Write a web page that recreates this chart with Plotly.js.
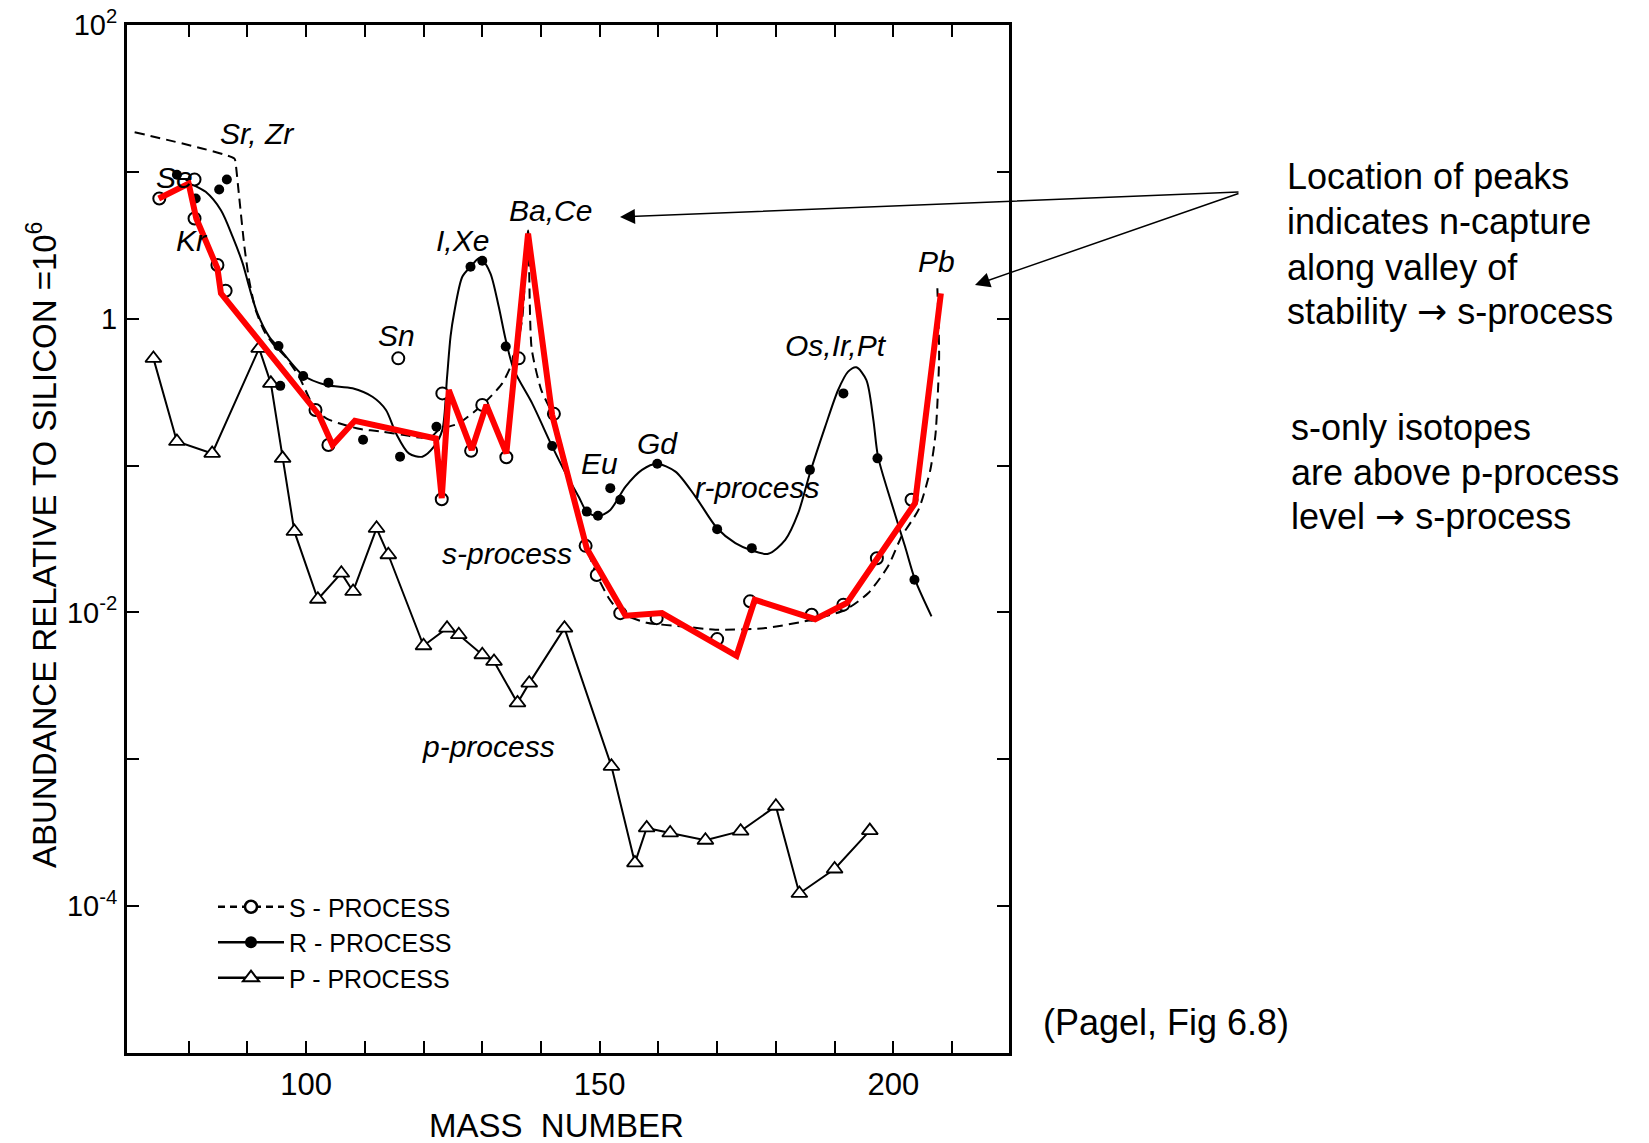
<!DOCTYPE html>
<html>
<head>
<meta charset="utf-8">
<script src="https://cdn.plot.ly/plotly-3.0.1.min.js"></script>
<style>
  html, body { margin: 0; padding: 0; background: #ffffff; }
  #chart { width: 1649px; height: 1143px; }
</style>
</head>
<body>
<div id="chart"></div>
<script>
// ---------------- data ----------------
// s-process isotopes (open circles)
const sMass  = [75.0, 81.0, 81.0, 84.9, 86.3, 101.6, 103.8, 115.7, 123.1, 123.2, 128.1, 130.0, 134.1, 136.2, 142.2,
                147.6, 149.5, 153.5, 159.7, 170.0, 175.6, 186.1, 191.5, 197.2, 203.1];
const sAbund = [6.59, 8.87, 4.81, 2.32, 1.55, 0.239, 0.138, 0.537, 0.0590, 0.310, 0.126, 0.259, 0.114, 0.537, 0.225,
                0.0284, 0.0180, 0.00989, 0.00914, 0.00658, 0.0119, 0.00964, 0.0113, 0.0234, 0.0585];

// r-process isotopes (filled dots)
const rMass  = [78.0, 81.2, 85.2, 86.5, 95.3, 95.6, 99.5, 103.8, 109.7, 116.0, 122.2, 128.0, 130.0, 134.0, 141.9,
                147.8, 149.7, 151.8, 153.5, 159.8, 170.0, 175.9, 185.8, 191.5, 197.3, 203.6];
const rAbund = [9.55, 6.58, 7.59, 8.87, 0.652, 0.349, 0.407, 0.367, 0.150, 0.115, 0.184, 2.26, 2.48, 0.646, 0.136,
                0.0486, 0.0455, 0.0702, 0.0585, 0.103, 0.0369, 0.0274, 0.0935, 0.310, 0.112, 0.0167];

// p-process isotopes (triangles, connected)
const pMass  = [74, 78, 84, 92, 94, 96, 98, 102, 106, 108, 112, 114, 120, 124, 126, 130, 132, 136, 138, 144,
                152, 156, 158, 162, 168, 174, 180, 184, 190, 196];
const pAbund = [0.537, 0.146, 0.121, 0.628, 0.363, 0.112, 0.0356, 0.0123, 0.0185, 0.0139, 0.0374, 0.0247,
                0.00593, 0.00782, 0.00705, 0.00515, 0.00464, 0.00242, 0.0033, 0.00782,
                0.000896, 0.000197, 0.000341, 0.000315, 0.000281, 0.000324, 0.000479, 0.000122, 0.000179, 0.000327];

// smooth dashed s-process curve
const sCurveMass  = [70.8, 87.8, 88.0, 88.6, 89.5, 90.3, 91.4, 92.9, 94.3, 96.5, 98.8, 101.6, 103.5, 105.6, 109.0,
                     113.0, 116.4, 119.5, 121.4, 122.6, 126.0, 130.0, 133.4, 135.5, 136.8, 137.8, 138.4, 140.0,
                     142.0, 145.0, 147.8, 149.5, 151.5, 153.5, 158.0, 164.0, 169.7, 178.2, 186.1, 191.8, 195.7,
                     199.1, 201.4, 204.3, 206.3, 207.2, 207.8, 207.5];
const sCurveAbund = [18.6, 12.3, 11.4, 6.76, 3.09, 1.83, 1.15, 0.817, 0.679, 0.550, 0.403, 0.239, 0.209, 0.194, 0.178,
                     0.170, 0.162, 0.155, 0.158, 0.175, 0.194, 0.259, 0.363, 0.550, 1.0, 3.98, 0.631, 0.331,
                     0.221, 0.0794, 0.0275, 0.0180, 0.0126, 0.0100, 0.00851, 0.00804, 0.00762, 0.00782, 0.00891,
                     0.0104, 0.0135, 0.0206, 0.0329, 0.0501, 0.0933, 0.166, 0.551, 1.61];

// smooth solid r-process curve
const rCurveMass  = [79.5, 80.4, 82.9, 85.5, 87.5, 89.2, 90.3, 91.7, 93.7, 95.4, 99.4, 103.4, 107.9, 111.3, 113.6,
                     115.3, 117.5, 119.8, 121.8, 123.2, 124.0, 124.6, 125.2, 126.6, 128.0, 129.4, 130.0, 131.4,
                     132.8, 134.0, 135.4, 138.5, 141.9, 144.2, 146.4, 147.8, 149.7, 151.8, 154.4, 157.2, 159.7,
                     162.9, 166.3, 170.0, 173.1, 175.9, 178.7, 181.6, 183.8, 185.8, 188.4, 190.6, 192.3, 193.7,
                     195.4, 196.6, 197.4, 199.7, 202.0, 203.7, 206.5];
const rCurveAbund = [8.87, 8.32, 7.31, 5.48, 3.61, 2.38, 1.65, 1.09, 0.755, 0.631, 0.414, 0.354, 0.336, 0.294, 0.239,
                     0.166, 0.121, 0.115, 0.135, 0.175, 0.398, 0.759, 1.09, 1.93, 2.26, 2.57, 2.51, 2.03,
                     1.21, 0.716, 0.448, 0.265, 0.135, 0.0887, 0.0615, 0.0486, 0.0450, 0.0499, 0.0719, 0.0935, 0.103,
                     0.0910, 0.0615, 0.0374, 0.0296, 0.0264, 0.0251, 0.0312, 0.0474, 0.0887, 0.184, 0.327, 0.436, 0.467,
                     0.383, 0.205, 0.115, 0.0555, 0.0281, 0.0167, 0.00940];

// hand-drawn red overlay line
const redMass  = [74.9, 80.0, 81.3, 84.9, 85.5, 102.2, 104.5, 108.3, 122.1, 123.1, 124.3, 128.2, 130.7, 134.1,
                  137.8, 141.9, 147.8, 154.4, 160.6, 173.3, 176.4, 186.7, 192.1, 203.7, 208.1];
const redAbund = [6.58, 8.32, 4.81, 2.20, 1.49, 0.221, 0.138, 0.202, 0.153, 0.0600, 0.327, 0.128, 0.259, 0.121,
                  3.80, 0.221, 0.0272, 0.00951, 0.00989, 0.00507, 0.0122, 0.00899, 0.0116, 0.0555, 1.49];

// axis ticks
const xTickVals = [80, 90, 100, 110, 120, 130, 140, 150, 160, 170, 180, 190, 200, 210];
const xTickText = ['', '', '100', '', '', '', '', '150', '', '', '', '', '200', ''];
const yTickVals = [100, 10, 1, 0.1, 0.01, 0.001, 0.0001, 0.00001];
const yTickText = ['10<sup>2</sup>', '', '1', '', '10<sup>-2</sup>', '', '10<sup>-4</sup>', ''];

// in-plot labels (mass, log10 abundance)
const labelText = ['Sr, Zr', 'Se', 'Kr', 'Sn', 'I,Xe', 'Ba,Ce', 'Pb', 'Os,Ir,Pt', 'Eu', 'Gd', 'r-process', 's-process', 'p-process'];
const labelMass = [91.6, 77.6, 80.5, 115.4, 126.7, 141.7, 207.3, 190.3, 149.9, 159.9, 176.8, 134.2, 131.0];
const labelLog  = [1.26, 0.96, 0.53, -0.113, 0.53, 0.738, 0.388, -0.184, -0.986, -0.85, -1.15, -1.60, -2.91];

const legendNames = ['S - PROCESS', 'R - PROCESS', 'P - PROCESS'];

const ARROW = '<span style="font-family:DejaVu Sans">\u2192</span>';
const noteLines1 = ['Location of peaks', 'indicates n-capture', 'along valley of', 'stability ' + ARROW + ' s-process'];
const noteLines2 = ['s-only isotopes', 'are above p-process', 'level ' + ARROW + ' s-process'];
const sourceText = '(Pagel, Fig 6.8)';

// ---------------- traces ----------------
const FONT = 'Liberation Sans, Arial, sans-serif';
const traces = [];

traces.push({ x: pMass, y: pAbund, mode: 'lines+markers', showlegend: false, hoverinfo: 'skip',
  line: { color: '#000', width: 2 },
  marker: { symbol: 'triangle-up', size: 14, color: '#fff', line: { color: '#000', width: 1.8 } } });

traces.push({ x: sCurveMass, y: sCurveAbund, mode: 'lines', showlegend: false, hoverinfo: 'skip',
  line: { color: '#000', width: 2, dash: '10px,6px', shape: 'spline', smoothing: 0.6 } });

traces.push({ x: rCurveMass, y: rCurveAbund, mode: 'lines', showlegend: false, hoverinfo: 'skip',
  line: { color: '#000', width: 2, shape: 'spline', smoothing: 0.8 } });

traces.push({ x: sMass, y: sAbund, mode: 'markers', showlegend: false, hoverinfo: 'skip',
  marker: { symbol: 'circle', size: 12, color: '#fff', line: { color: '#000', width: 2 } } });

traces.push({ x: rMass, y: rAbund, mode: 'markers', showlegend: false, hoverinfo: 'skip',
  marker: { symbol: 'circle', size: 10, color: '#000' } });

traces.push({ x: redMass, y: redAbund, mode: 'lines', showlegend: false, hoverinfo: 'skip',
  line: { color: '#ff0000', width: 6 } });

// legend entries
traces.push({ x: [null], y: [null], name: legendNames[0], mode: 'lines+markers',
  line: { color: '#000', width: 2.5, dash: '7px,5px' },
  marker: { symbol: 'circle', size: 12, color: '#fff', line: { color: '#000', width: 2.5 } } });
traces.push({ x: [null], y: [null], name: legendNames[1], mode: 'lines+markers',
  line: { color: '#000', width: 2.5 }, marker: { symbol: 'circle', size: 12, color: '#000' } });
traces.push({ x: [null], y: [null], name: legendNames[2], mode: 'lines+markers',
  line: { color: '#000', width: 2.5 },
  marker: { symbol: 'triangle-up', size: 14, color: '#fff', line: { color: '#000', width: 2 } } });

// ---------------- annotations ----------------
const annotations = [];
labelText.forEach((t, i) => {
  annotations.push({ x: labelMass[i], y: labelLog[i], xref: 'x', yref: 'y', text: '<i>' + t + '</i>',
    showarrow: false, xanchor: 'center', yanchor: 'middle',
    font: { family: FONT, size: 30, color: '#000' } });
});

const px2px = (px) => (px - 127) / 882;
const py2py = (py) => (1053 - py) / 1028;

const y1 = [176.7, 221.9, 267.1, 311.3];
noteLines1.forEach((t, i) => annotations.push({ x: px2px(1285), y: py2py(y1[i]), xref: 'paper', yref: 'paper',
  text: t, showarrow: false, xanchor: 'left', yanchor: 'middle', font: { family: FONT, size: 36, color: '#000' } }));
const y2 = [427, 472.2, 516.4];
noteLines2.forEach((t, i) => annotations.push({ x: px2px(1289), y: py2py(y2[i]), xref: 'paper', yref: 'paper',
  text: t, showarrow: false, xanchor: 'left', yanchor: 'middle', font: { family: FONT, size: 36, color: '#000' } }));
annotations.push({ x: px2px(1041), y: py2py(1022), xref: 'paper', yref: 'paper', text: sourceText,
  showarrow: false, xanchor: 'left', yanchor: 'middle', font: { family: FONT, size: 36, color: '#000' } });

// arrows from the note to the peaks
annotations.push({ x: px2px(620), y: py2py(217), xref: 'paper', yref: 'paper', text: '', showarrow: true,
  ax: 620, ay: -25, arrowhead: 2, arrowsize: 2, arrowwidth: 1.5, arrowcolor: '#000', standoff: 0 });
annotations.push({ x: px2px(975), y: py2py(285), xref: 'paper', yref: 'paper', text: '', showarrow: true,
  ax: 265, ay: -92, arrowhead: 2, arrowsize: 2, arrowwidth: 1.5, arrowcolor: '#000', standoff: 0 });

// axis titles
annotations.push({ x: px2px(42), y: py2py(545), xref: 'paper', yref: 'paper', textangle: -90,
  text: 'ABUNDANCE RELATIVE TO SILICON =10<sup>6</sup>', showarrow: false, xanchor: 'center', yanchor: 'middle',
  font: { family: FONT, size: 33, color: '#000' } });
annotations.push({ x: px2px(556), y: py2py(1125), xref: 'paper', yref: 'paper',
  text: 'MASS  NUMBER', showarrow: false, xanchor: 'center', yanchor: 'middle',
  font: { family: FONT, size: 33, color: '#000' } });

const axisCommon = {
  showline: true, linewidth: 3, linecolor: '#000', mirror: 'ticks',
  ticks: 'inside', ticklen: 12, tickwidth: 2, tickcolor: '#000',
  showgrid: false, zeroline: false
};

const layout = {
  width: 1649, height: 1143,
  margin: { l: 127, r: 640, t: 25, b: 90 },
  paper_bgcolor: '#fff', plot_bgcolor: '#fff',
  font: { family: FONT, color: '#000' },
  showlegend: true,
  legend: { x: px2px(213), y: py2py(884), xanchor: 'left', yanchor: 'top',
    bgcolor: 'rgba(0,0,0,0)', borderwidth: 0, tracegroupgap: 0, itemwidth: 66,
    font: { family: FONT, size: 25, color: '#000' } },
  xaxis: Object.assign({}, axisCommon, { range: [69.5, 219.7], tickmode: 'array',
    tickvals: xTickVals, ticktext: xTickText, ticklabelstandoff: 2,
    tickfont: { family: FONT, size: 31, color: '#000' } }),
  yaxis: Object.assign({}, axisCommon, { type: 'log', range: [-5, 2], tickmode: 'array',
    tickvals: yTickVals, ticktext: yTickText, ticklabelstandoff: 1,
    tickfont: { family: FONT, size: 29, color: '#000' } }),
  annotations: annotations
};

Plotly.newPlot('chart', traces, layout, { displayModeBar: false, staticPlot: true });
</script>
</body>
</html>
